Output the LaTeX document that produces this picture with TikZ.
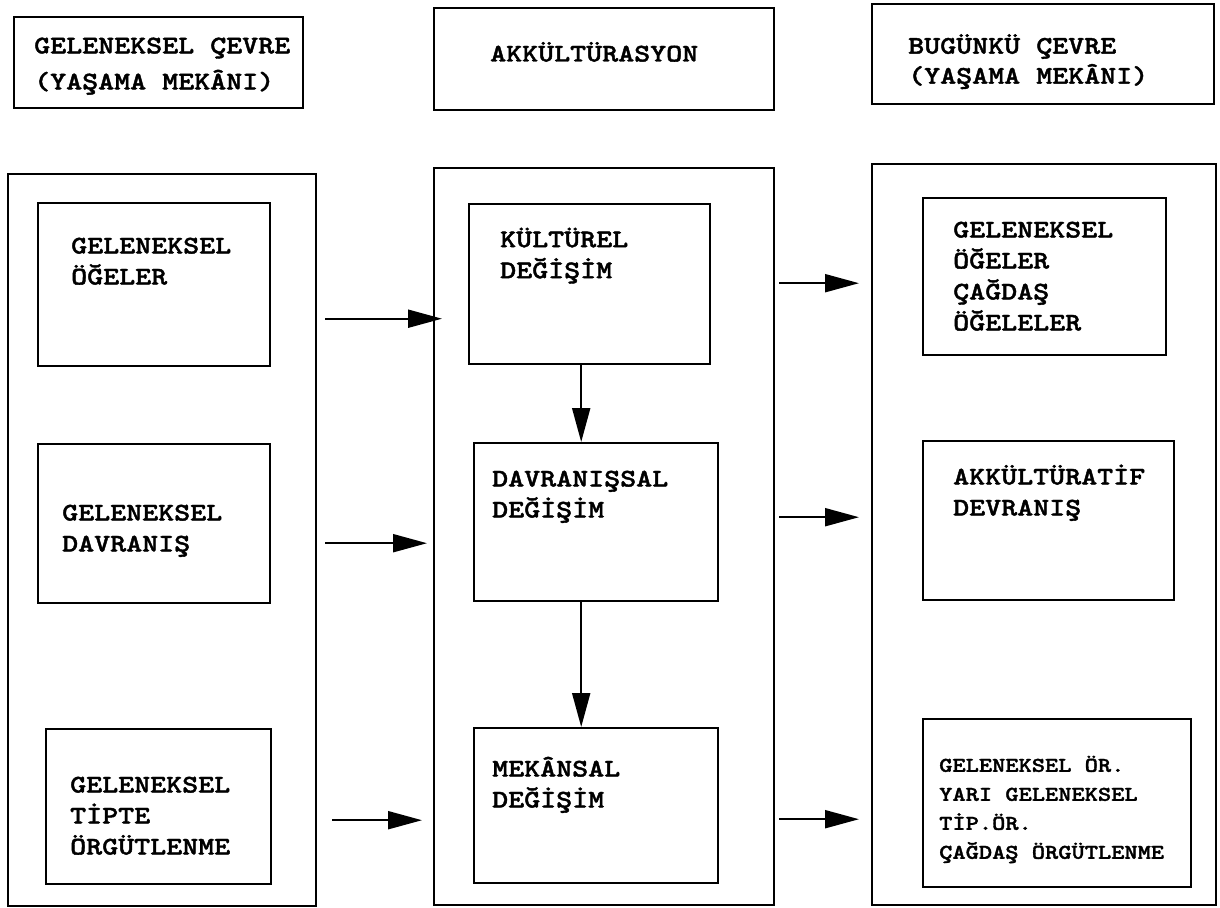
\documentclass[tikz,border=0pt]{standalone}
\usepackage{fontspec}
\newfontfamily\typew{lmmonolt10-bold.otf}[FakeStretch=1.2, FakeBold=1.6]
\usetikzlibrary{arrows.meta, calc}

\begin{document}
\begin{tikzpicture}[
        x=1pt, y=-1pt,
        box/.style={draw, line width=2.4pt, anchor=north west, inner sep=0pt},
        txt/.style={anchor=north west, inner sep=0pt, align=left,
          font=\fontsize{25.4}{31}\selectfont\typew},
        small/.style={font=\fontsize{21}{29}\selectfont\typew},
        arr/.style={line width=2pt, -{Triangle[length=34pt, width=18pt]}}
      ]
        \useasboundingbox (0,0) rectangle (1220,907);

        % headers
        \node[box, minimum width=289, minimum height=91] (hdrL) at (13,16)
          [label={[txt, font=\fontsize{25.4}{36}\selectfont\typew, xshift=21, yshift=-12]north west:\strut GELENEKSEL ÇEVRE\\(YAŞAMA MEKÂNI)}] {};
        \node[box, minimum width=340, minimum height=102] (hdrM) at (433,7)
          [label={[txt, xshift=57, yshift=-32.6]north west:\strut AKKÜLTÜRASYON}] {};
        \node[box, minimum width=342, minimum height=100] (hdrR) at (871,3)
          [label={[txt, font=\fontsize{25.4}{30}\selectfont\typew, xshift=37, yshift=-29.5]north west:\strut BUGÜNKÜ ÇEVRE\\(YAŞAMA MEKÂNI)}] {};

        % columns
        \node[box, minimum width=308, minimum height=732] (colL) at (7,173) {};
        \node[box, minimum width=340, minimum height=737] (colM) at (433,167) {};
        \node[box, minimum width=344, minimum height=741] (colR) at (871,163) {};

        \node[box, minimum width=232, minimum height=163] (L1) at (37,202)
          [label={[txt, xshift=34, yshift=-29.6]north west:\strut GELENEKSEL\\ÖĞELER}] {};
        \node[box, minimum width=232, minimum height=159] (L2) at (37,443)
          [label={[txt, xshift=25, yshift=-55.6]north west:\strut GELENEKSEL\\DAVRANIŞ}] {};
        \node[box, minimum width=225, minimum height=155] (L3) at (45,728)
          [label={[txt, xshift=25, yshift=-42.6]north west:\strut GELENEKSEL\\TİPTE\\ÖRGÜTLENME}] {};

        \node[box, minimum width=241, minimum height=160] (M1) at (468,203)
          [label={[txt, xshift=32, yshift=-22.3]north west:\strut KÜLTÜREL\\DEĞİŞİM}] {};
        \node[box, minimum width=244, minimum height=158] (M2) at (473,442)
          [label={[txt, xshift=19, yshift=-22.6]north west:\strut DAVRANIŞSAL\\DEĞİŞİM}] {};
        \node[box, minimum width=244, minimum height=155] (M3) at (473,727)
          [label={[txt, xshift=19, yshift=-27.6]north west:\strut MEKÂNSAL\\DEĞİŞİM}] {};

        \node[box, minimum width=243, minimum height=157] (R1) at (922,197)
          [label={[txt, xshift=31, yshift=-18.6]north west:\strut GELENEKSEL\\ÖĞELER\\ÇAĞDAŞ\\ÖĞELELER}] {};
        \node[box, minimum width=251, minimum height=159] (R2) at (922,440)
          [label={[txt, xshift=31, yshift=-22.6]north west:\strut AKKÜLTÜRATİF\\DEVRANIŞ}] {};
        \node[box, minimum width=268, minimum height=168] (R3) at (922,718)
          [label={[txt, small, xshift=17, yshift=-33.3]north west:\strut GELENEKSEL ÖR.\\YARI GELENEKSEL\\TİP.ÖR.\\ÇAĞDAŞ ÖRGÜTLENME}] {};

        % arrows
        \draw[arr] ($(colL.east |- L1.east)+(8,34)$) -- ($(colM.west |- L1.east)+(9,34)$);
        \draw[arr] ($(colL.east |- L2.east)+(8,19.5)$) -- ($(colM.west |- L2.east)+(-6,19.5)$);
        \draw[arr] ($(colL.east |- L3.east)+(15,13.5)$) -- ($(colM.west |- L3.east)+(-11,13.5)$);

        \draw[arr] ($(M1.south)+(-8.5,0)$) -- ($(M1.south |- M2.north)+(-8.5,0)$);
        \draw[arr] ($(M2.south)+(-15,0)$) -- ($(M2.south |- M3.north)+(-15,0)$);

        \draw[arr] ($(colM.east |- M1.east)+(4,-1)$) -- ($(colR.west |- M1.east)+(-12,-1)$);
        \draw[arr] ($(colM.east |- M2.east)+(4,-5)$) -- ($(colR.west |- M2.east)+(-12,-5)$);
        \draw[arr] ($(colM.east |- M3.east)+(4,13.5)$) -- ($(colR.west |- M3.east)+(-12,13.5)$);
    \end{tikzpicture}
\end{document}
